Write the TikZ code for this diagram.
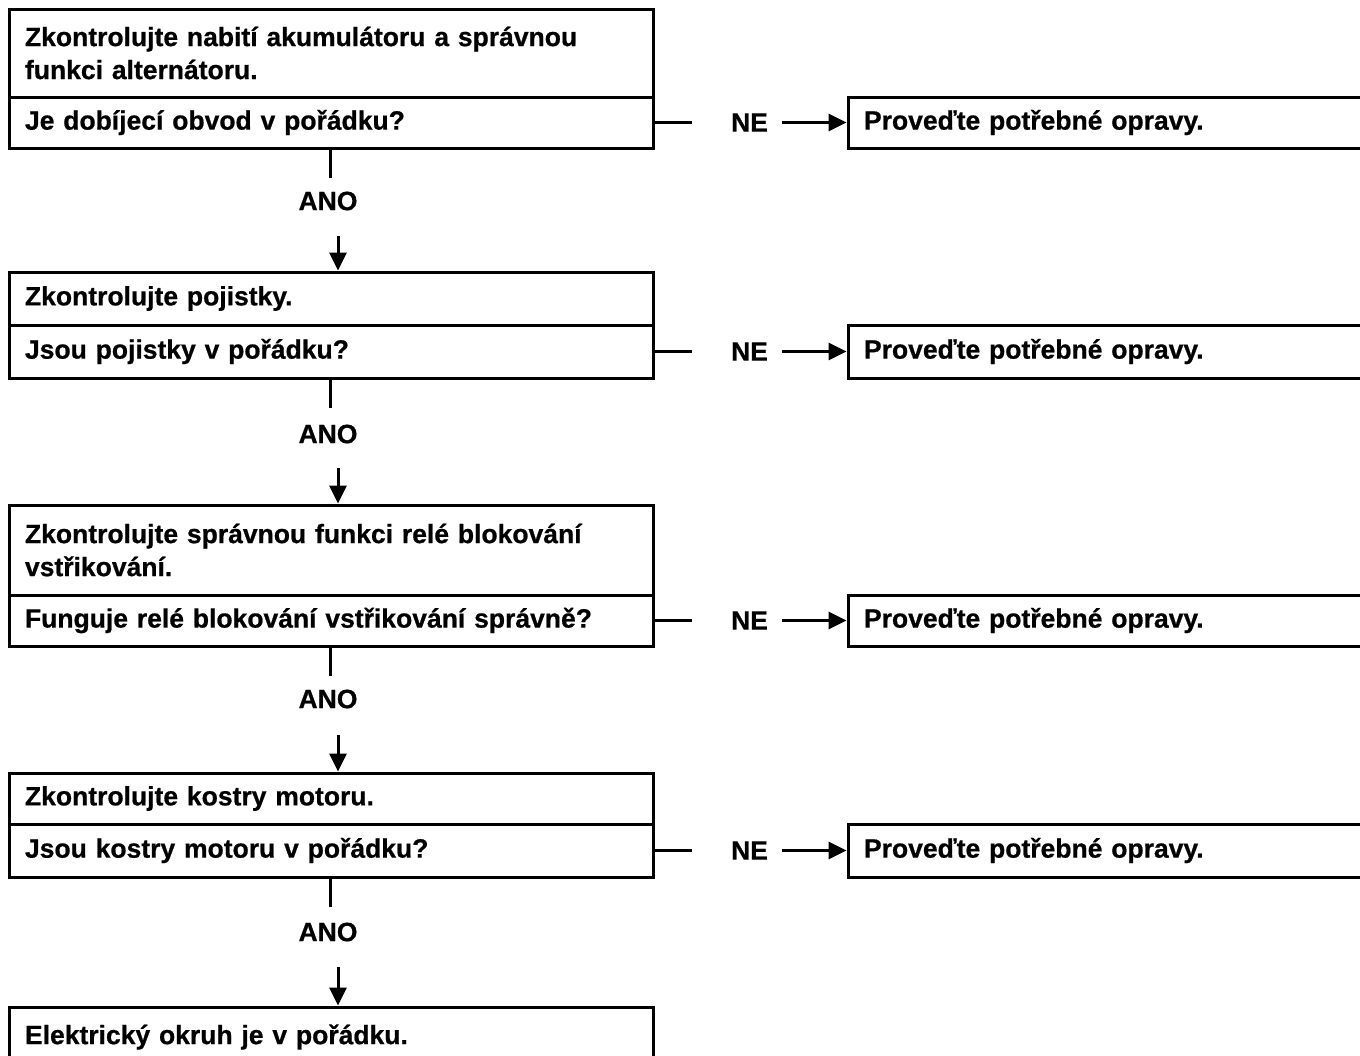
\documentclass[tikz,border=0pt]{standalone}
\usepackage{fontspec}
\setmainfont{Liberation Sans}[BoldFeatures={FakeBold=0.7}]
\usetikzlibrary{arrows.meta}
\begin{document}
\begin{tikzpicture}[x=1pt,y=-1pt,
  line width=3pt,
  font=\fontsize{26.5}{33}\selectfont\bfseries,
  cell/.style={draw, rectangle, minimum width=644pt, text width=612pt,
    inner xsep=16pt, inner ysep=0pt, align=left},
  fixbox/.style={draw, rectangle, minimum width=542pt, text width=510pt,
    inner xsep=16pt, inner ysep=0pt, align=left},
  lbl/.style={inner sep=0pt},
  arrowline/.style={-{Triangle[length=18pt,width=17pt]}, line width=3pt}
]
\useasboundingbox (0,0) rectangle (1360,1055);

% step 1: charging circuit
\node[cell, minimum height=88pt] (t1) at (331,53)
  {Zkontrolujte nabití akumulátoru a správnou\\funkci alternátoru.};
\node[cell, minimum height=51pt] (q1) at (331,122.5) {Je dobíjecí obvod v pořádku?};
\node[fixbox, minimum height=51pt] (r1) at (1119,122.5) {Proveďte potřebné opravy.};

% step 2: fuses
\node[cell, minimum height=53pt] (t2) at (331,298.5) {Zkontrolujte pojistky.};
\node[cell, minimum height=53pt] (q2) at (331,351.5) {Jsou pojistky v pořádku?};
\node[fixbox, minimum height=53pt] (r2) at (1119,351.5) {Proveďte potřebné opravy.};

% step 3: injection relay
\node[cell, minimum height=90pt] (t3) at (331,550)
  {Zkontrolujte správnou funkci relé blokování\\vstřikování.};
\node[cell, minimum height=51pt] (q3) at (331,620.5) {Funguje relé blokování vstřikování správně?};
\node[fixbox, minimum height=51pt] (r3) at (1119,620.5) {Proveďte potřebné opravy.};

% step 4: engine grounds
\node[cell, minimum height=51pt] (t4) at (331,798.5) {Zkontrolujte kostry motoru.};
\node[cell, minimum height=53pt] (q4) at (331,850.5) {Jsou kostry motoru v pořádku?};
\node[fixbox, minimum height=53pt] (r4) at (1119,850.5) {Proveďte potřebné opravy.};

% result
\node[cell, minimum height=60pt] (t5) at (331,1037) {Elektrický okruh je v pořádku.};

% NE branches
\foreach \i in {1,2,3,4} {
  \coordinate (h\i) at ([xshift=37pt]q\i.east);
  \draw (q\i.east) -- (h\i);
  \node[lbl] (n\i) at ([xshift=95pt]q\i.east) {NE};
  \coordinate (a\i) at ([xshift=-65pt]r\i.west);
  \draw[arrowline] (a\i) -- (r\i.west);
}

% ANO branches
\foreach \i/\j/\ya/\yb/\yc in {1/2/178/201/236, 2/3/408/434/468, 3/4/676/699/735, 4/5/907/932/967} {
  \coordinate (v\i) at (330,\ya);
  \draw (v\i |- q\i.south) -- (v\i);
  \node[lbl] (y\i) at (328,\yb) {ANO};
  \coordinate (d\i) at (338,\yc);
  \draw[arrowline] (d\i) -- (d\i |- t\j.north);
}
\end{tikzpicture}
\end{document}
